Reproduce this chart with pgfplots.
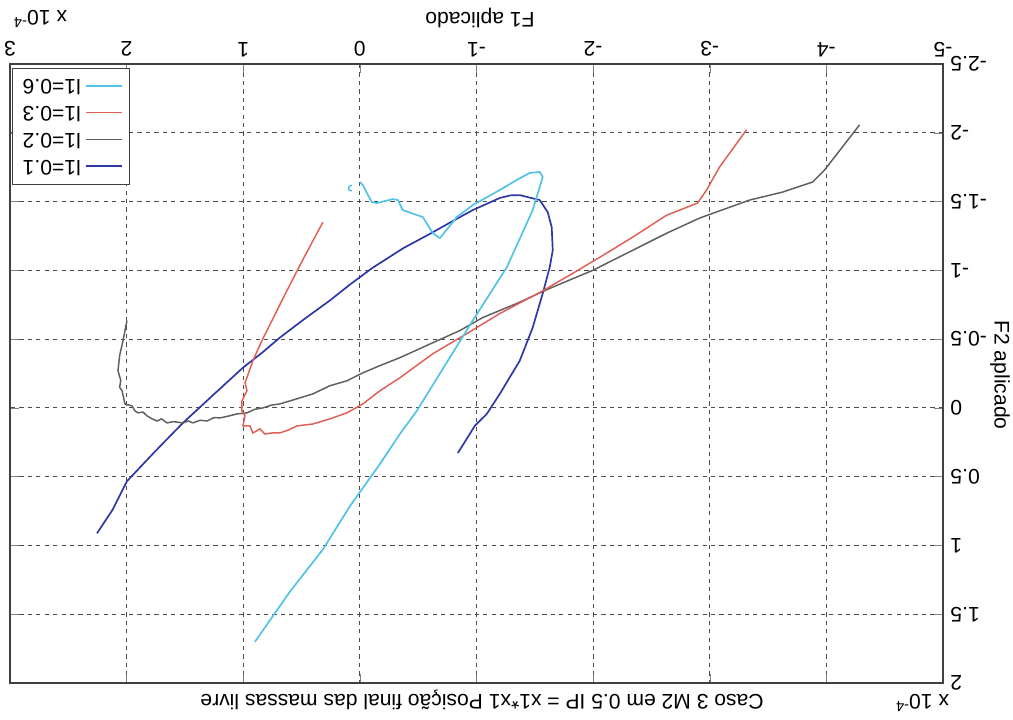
\documentclass[border=0pt]{standalone}
\usepackage{pgfplots}
\pgfplotsset{compat=1.18}
\usepackage{fontspec}
\setmainfont{Liberation Sans}
\definecolor{cblue}{RGB}{45,55,165}
\definecolor{cgray}{RGB}{95,95,95}
\definecolor{cred}{RGB}{225,95,85}
\definecolor{ccyan}{RGB}{80,195,230}
\begin{document}
\begin{tikzpicture}
\begin{axis}[
  scale only axis, width=15.55cm, height=10.317cm,
  xmin=-5, xmax=3, ymin=-2.5, ymax=2,
  x dir=reverse, y dir=reverse,
  xticklabel pos=top, yticklabel pos=right,
  xtick={-5,-4,-3,-2,-1,0,1,2,3},
  xticklabels={-5,-4,-3,-2,-1,0,1,2,3},
  ytick={-2.5,-2,-1.5,-1,-0.5,0,0.5,1,1.5,2},
  yticklabels={-2.5,-2,-1.5,-1,-0.5,0,0.5,1,1.5,2},
  x tick label style={rotate=180, anchor=north, font=\normalsize},
  y tick label style={rotate=180, anchor=east, font=\normalsize},
  tick align=inside, major tick length=0.15cm,
  axis line style={black!75, line width=0.5pt},
  grid=major,
  grid style={dash pattern=on 2pt off 2pt, black!70, line width=0.5pt},
  every axis plot/.append style={line width=0.7pt},
  reverse legend,
  legend plot pos=right,
  legend style={at={(axis cs:3,-2.5)}, anchor=north west,
    nodes={rotate=180},
    draw=black!75, fill=white, font=\normalsize,
    xshift=0.03cm, yshift=-0.06cm},
  legend cell align=right,
]
% l1 = 0.1
\addplot[cblue, line width=0.8pt] table {
u v
2.254 0.912
2.120 0.740
1.997 0.533
1.760 0.320
1.517 0.109
1.250 -0.100
1.003 -0.292
0.840 -0.400
0.686 -0.511
0.470 -0.650
0.257 -0.781
0.080 -0.900
-0.103 -1.015
-0.370 -1.160
-0.626 -1.277
-0.800 -1.360
-0.968 -1.438
-1.200 -1.526
-1.290 -1.545
-1.371 -1.547
-1.450 -1.530
-1.542 -1.511
-1.611 -1.423
-1.645 -1.314
-1.654 -1.146
-1.628 -1.022
-1.568 -0.832
-1.482 -0.584
-1.371 -0.343
-1.200 -0.102
-1.088 0.044
-0.985 0.131
-0.920 0.220
-0.840 0.328
};
\addlegendentry{l1=0.1}
% l1 = 0.2
\addplot[cgray] table {
u v
1.997 -0.635
2.031 -0.489
2.060 -0.380
2.074 -0.270
2.050 -0.200
2.060 -0.150
2.039 -0.124
2.014 -0.029
1.954 -0.015
1.930 0.020
1.902 0.036
1.860 0.030
1.825 0.058
1.780 0.080
1.740 0.095
1.700 0.080
1.654 0.109
1.600 0.100
1.517 0.109
1.470 0.095
1.431 0.109
1.370 0.090
1.311 0.095
1.250 0.070
1.200 0.073
1.130 0.060
1.054 0.044
0.968 0.036
0.900 0.010
0.831 0.000
0.760 -0.020
0.686 -0.029
0.540 -0.066
0.403 -0.102
0.257 -0.161
0.111 -0.197
-0.026 -0.255
-0.171 -0.307
-0.343 -0.365
-0.626 -0.474
-0.857 -0.562
-1.054 -0.657
-1.345 -0.759
-1.628 -0.869
-1.997 -1.000
-2.339 -1.146
-2.631 -1.270
-2.913 -1.380
-3.342 -1.511
-3.625 -1.569
-3.882 -1.642
-3.985 -1.730
-4.285 -2.058
};
\addlegendentry{l1=0.2}
% l1 = 0.3
\addplot[cred] table {
u v
0.317 -1.350
0.500 -1.060
0.668 -0.781
0.840 -0.489
0.917 -0.343
0.985 -0.182
0.968 -0.124
1.011 -0.051
1.011 0.022
0.985 0.058
1.003 0.131
0.943 0.131
0.917 0.182
0.857 0.153
0.814 0.190
0.754 0.182
0.686 0.182
0.610 0.160
0.540 0.131
0.403 0.117
0.257 0.080
0.111 0.036
-0.026 -0.029
-0.171 -0.124
-0.343 -0.219
-0.626 -0.394
-0.917 -0.540
-1.200 -0.686
-1.542 -0.839
-1.825 -0.978
-2.057 -1.095
-2.339 -1.241
-2.631 -1.401
-2.896 -1.489
-2.973 -1.584
-3.085 -1.752
-3.316 -2.022
};
\addlegendentry{l1=0.3}
% l1 = 0.6
\addplot[ccyan, line width=0.8pt] table {
u v
0.900 1.701
0.600 1.336
0.317 1.029
0.086 0.715
-0.171 0.409
-0.343 0.190
-0.488 0.022
-0.728 -0.307
-0.968 -0.635
-1.260 -1.022
-1.482 -1.438
-1.568 -1.679
-1.542 -1.715
-1.457 -1.708
-1.345 -1.657
-1.200 -1.584
-0.968 -1.474
-0.831 -1.387
-0.686 -1.234
-0.626 -1.270
-0.540 -1.387
-0.368 -1.438
-0.326 -1.511
-0.283 -1.518
-0.146 -1.489
-0.103 -1.496
-0.060 -1.562
-0.026 -1.620
0.000 -1.642
};
\addlegendentry{l1=0.6}
\addplot[ccyan, forget plot] table {
u v
0.069 -1.620
0.094 -1.606
0.094 -1.584
0.069 -1.577
};
\coordinate (bl) at (axis cs:3,2);
\coordinate (tr) at (axis cs:-5,-2.5);
\end{axis}
\node[rotate=180] at ([shift={(7.833cm,11.083cm)}]bl) {F1 aplicado};
\node[rotate=180] at ([shift={(0.5cm,11.07cm)}]bl) {x 10\textsuperscript{-4}};
\node[rotate=180] at ([shift={(15.2cm,-0.333cm)}]bl) {x 10\textsuperscript{-4}};
\node[rotate=180] at ([shift={(7.867cm,-0.283cm)}]bl) {Caso 3 M2 em 0.5 IP = x1*x1 Posição final das massas livre};
\node[rotate=-90] at ([shift={(16.5cm,5.133cm)}]bl) {F2 aplicado};
\pgfresetboundingbox
\path[use as bounding box] ([shift={(-0.1667cm,-0.6cm)}]bl) rectangle ([shift={(1.1667cm,1.0667cm)}]tr);
\end{tikzpicture}
\end{document}
